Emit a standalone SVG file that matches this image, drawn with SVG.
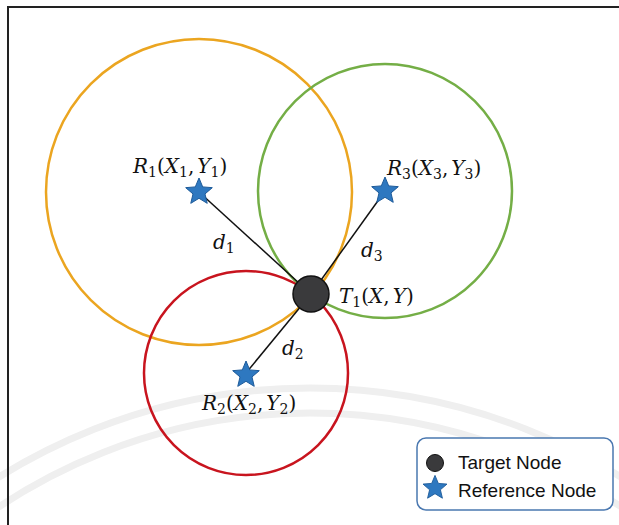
<svg xmlns="http://www.w3.org/2000/svg" width="619" height="525" viewBox="0 0 619 525">
<style>
.m{font-family:"DejaVu Serif","Liberation Serif",serif;font-size:20px;fill:#111}
.i{font-style:italic}
.s{font-size:14px}
.lg{font-family:"Liberation Sans","Noto Sans",sans-serif;font-size:19px;fill:#111}
.wm{fill:none;stroke:#efefef;stroke-width:7}
.conn{stroke:#111;stroke-width:1.5}
</style>
<defs>
<path id="star" d="M0,-14 L3.7,-5.1 L13.31,-4.33 L5.99,1.95 L8.23,11.33 L0,6.3 L-8.23,11.33 L-5.99,1.95 L-13.31,-4.33 L-3.7,-5.1Z" fill="#2E78C0" stroke="#1D5A99" stroke-width="1"/>
</defs>
<rect x="0" y="0" width="619" height="525" fill="#fff"/>
<g id="watermark">
<circle class="wm" cx="310" cy="975" r="587"/>
<circle class="wm" cx="310" cy="975" r="562"/>
</g>
<rect id="frame" x="8" y="7" width="700" height="600" fill="none" stroke="#222" stroke-width="2"/>
<g id="circles" fill="none" stroke-width="2.5">
<circle id="c1" cx="199" cy="192" r="153" stroke="#EBA520"/>
<circle id="c3" cx="385" cy="191" r="127" stroke="#74AE46"/>
<circle id="c2" cx="246" cy="373" r="102" stroke="#C8141E"/>
</g>
<g id="connectors">
<line class="conn" x1="199" y1="192" x2="311" y2="294"/>
<line class="conn" x1="385" y1="191" x2="311" y2="294"/>
<line class="conn" x1="246" y1="373" x2="311" y2="294"/>
</g>
<g id="T1">
<circle cx="311" cy="294" r="18" fill="#3a3a3c" stroke="#111" stroke-width="1.5"/>
<text class="m" x="339" y="303"><tspan class="i">T</tspan><tspan class="s" dy="4">1</tspan><tspan dy="-4">(</tspan><tspan class="i">X</tspan><tspan>,</tspan><tspan class="i" dx="3">Y</tspan><tspan>)</tspan></text>
</g>
<g id="R1">
<use href="#star" x="199" y="192"/>
<text class="m" x="133" y="173"><tspan class="i">R</tspan><tspan class="s" dy="4">1</tspan><tspan dy="-4">(</tspan><tspan class="i">X</tspan><tspan class="s" dy="4">1</tspan><tspan dy="-4">,</tspan><tspan class="i" dx="3">Y</tspan><tspan class="s" dy="4">1</tspan><tspan dy="-4">)</tspan></text>
</g>
<g id="R3">
<use href="#star" x="385" y="191"/>
<text class="m" x="387" y="175"><tspan class="i">R</tspan><tspan class="s" dy="4">3</tspan><tspan dy="-4">(</tspan><tspan class="i">X</tspan><tspan class="s" dy="4">3</tspan><tspan dy="-4">,</tspan><tspan class="i" dx="3">Y</tspan><tspan class="s" dy="4">3</tspan><tspan dy="-4">)</tspan></text>
</g>
<g id="R2">
<use href="#star" x="246" y="375"/>
<text class="m" x="202" y="410"><tspan class="i">R</tspan><tspan class="s" dy="4">2</tspan><tspan dy="-4">(</tspan><tspan class="i">X</tspan><tspan class="s" dy="4">2</tspan><tspan dy="-4">,</tspan><tspan class="i" dx="3">Y</tspan><tspan class="s" dy="4">2</tspan><tspan dy="-4">)</tspan></text>
</g>
<g id="labels">
<text class="m" x="213" y="249"><tspan class="i">d</tspan><tspan class="s" dy="4">1</tspan></text>
<text class="m" x="361" y="257"><tspan class="i">d</tspan><tspan class="s" dy="4">3</tspan></text>
<text class="m" x="282" y="355"><tspan class="i">d</tspan><tspan class="s" dy="4">2</tspan></text>
</g>
<g id="legend">
<rect x="417" y="438" width="196" height="72" rx="9" fill="#fff" stroke="#4A78B0" stroke-width="1.5"/>
<circle cx="435" cy="463" r="8.5" fill="#3a3a3c" stroke="#111" stroke-width="1"/>
<text class="lg" x="458" y="469">Target Node</text>
<use href="#star" transform="translate(435,488) scale(0.9)"/>
<text class="lg" x="458" y="497">Reference Node</text>
</g>
</svg>
